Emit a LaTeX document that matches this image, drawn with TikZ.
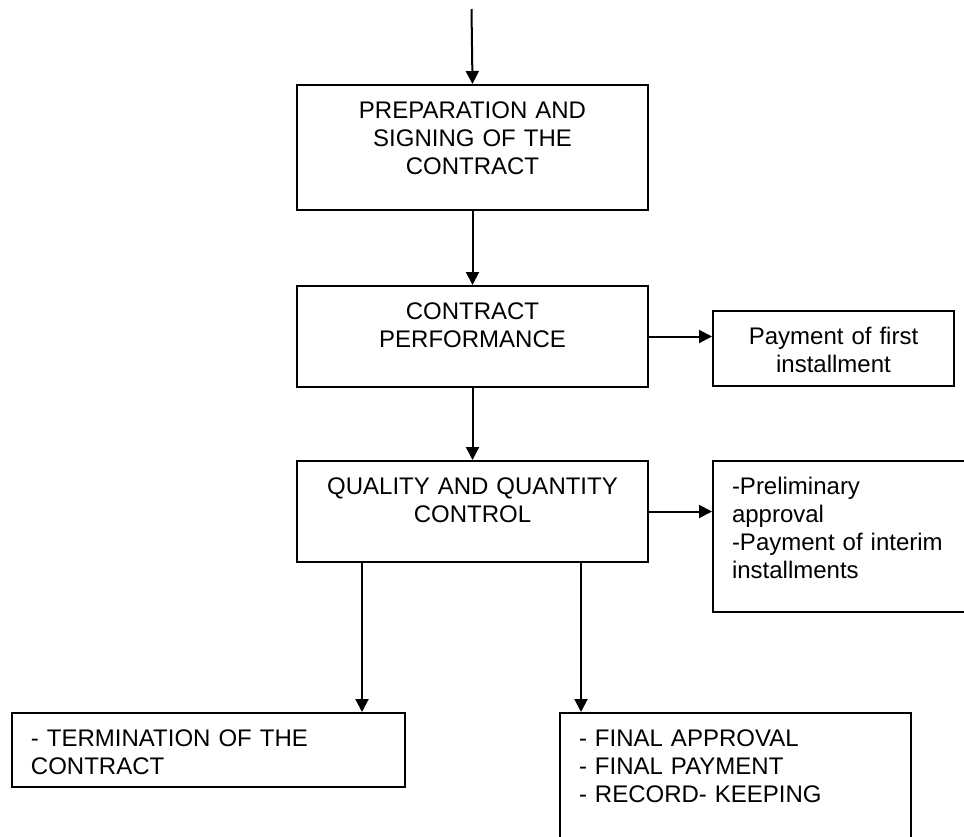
\documentclass[tikz,border=0pt]{standalone}
\usepackage{fontspec}
\setmainfont{Liberation Sans}
\usepackage{tikz}
\usetikzlibrary{arrows.meta,positioning,calc}

\tikzset{
  box/.style={draw,line width=1pt,anchor=north west,inner xsep=0pt,inner ysep=0pt,
              text height=16.5pt,font=\fontsize{12}{14}\selectfont},
  midbox/.style={box,text width=175.5pt,align=center},
  leftbox/.style={box,inner xsep=9.5pt,align=left},
  arr/.style={-{Triangle[length=6.5pt,width=6.5pt]},line width=1pt}
}

\begin{document}
\begin{tikzpicture}[x=0.5pt,y=-0.5pt]

  % -- FRAME ---------------------------------------------------------
  \useasboundingbox (0,0) rectangle (964,836);
  \clip (0,0) rectangle (964,836);

  % -- MAIN COLUMN ---------------------------------------------------
  \coordinate (start) at (471.5,9);
  \node[midbox,text depth=46pt] (prep) at (296,84) {PREPARATION AND\\SIGNING OF THE\\CONTRACT};
  \node[midbox,text depth=34pt] (perf) at (296,285) {CONTRACT\\PERFORMANCE};
  \node[midbox,text depth=34pt] (qc) at (296,460) {QUALITY AND QUANTITY\\CONTROL};

  % -- SIDE BOXES ----------------------------------------------------
  \node[box,text width=120.5pt,align=center,text depth=21pt] (first) at (712,310) {Payment of first\\installment};
  \node[leftbox,text width=115pt,text depth=59pt] (interim) at (712,460) {-Preliminary\\approval\\-Payment of interim\\installments};

  % -- OUTCOMES ------------------------------------------------------
  \node[leftbox,text width=177.5pt,text depth=20.5pt] (term) at (11,712) {- TERMINATION OF THE\\CONTRACT};
  \node[leftbox,text width=156.5pt,text depth=52.5pt] (final) at (559,712) {- FINAL APPROVAL\\- FINAL PAYMENT\\- RECORD- KEEPING};

  % -- ARROWS --------------------------------------------------------
  \draw[arr] (start) -- (prep.north);
  \draw[arr] (prep.south) -- (perf.north);
  \draw[arr] (perf.south) -- (qc.north);
  \draw[arr] (perf.east) -- (perf.east -| first.west);
  \draw[arr] (qc.east) -- (qc.east -| interim.west);

  \coordinate (qa) at ([xshift=33pt]qc.south west);
  \coordinate (qb) at ([xshift=142.5pt]qc.south west);
  \draw[arr] (qa) -- (qa |- term.north);
  \draw[arr] (qb) -- (qb |- final.north);

\end{tikzpicture}
\end{document}
